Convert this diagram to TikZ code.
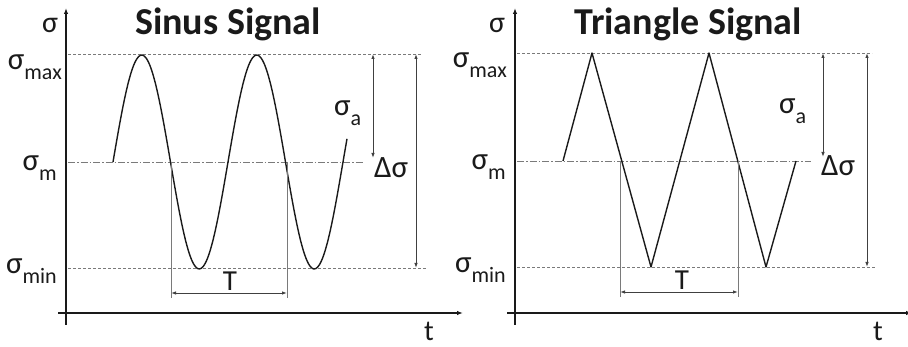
\documentclass[tikz,border=0pt]{standalone}
\usepackage{fontspec}
\setmainfont{Carlito}
\usetikzlibrary{arrows.meta}
\definecolor{ink}{HTML}{1A1A1A}
\definecolor{guide}{HTML}{7A7A7A}
\definecolor{dimgray}{HTML}{404040}
\newcommand{\lo}[1]{\raisebox{-0.3em}{\fontsize{22}{22}\selectfont #1}}
\tikzset{
  every node/.style={text=ink,inner sep=0pt},
  lbl/.style={font=\fontsize{29}{31}\selectfont},
  sublbl/.style={font=\fontsize{31}{33}\selectfont},
  axlbl/.style={font=\fontsize{30}{32}\selectfont},
  ttl/.style={font=\fontsize{38}{40}\selectfont\bfseries},
  axis/.style={-{Latex[length=6pt,width=4.5pt]},line width=1.2pt,draw=ink},
  levelline/.style={dash pattern=on 3pt off 2pt,line width=0.8pt,draw=guide},
  midline/.style={dash pattern=on 7pt off 2pt on 1.5pt off 2pt,line width=0.8pt,draw=guide},
  signal/.style={line width=1.4pt,draw=ink,line join=round},
  extline/.style={line width=0.8pt,draw=guide},
  dimarr/.style={{Latex[length=5pt,width=3.5pt]}-{Latex[length=5pt,width=3.5pt]},line width=0.9pt,draw=dimgray}
}
\begin{document}
\begin{tikzpicture}[x=1pt,y=-1pt]
  \useasboundingbox (0,0) rectangle (908,347);

  % sinus panel
  \begin{scope}
    \coordinate (sin-y0) at (66,325); \coordinate (sin-y1) at (66,8);
    \coordinate (sin-x0) at (58,313); \coordinate (sin-x1) at (463,313);
    \coordinate (sin-maxl) at (68,54);  \coordinate (sin-maxr) at (422,54);
    \coordinate (sin-midl) at (68,162); \coordinate (sin-midr) at (363,162);
    \coordinate (sin-minl) at (68,268); \coordinate (sin-minr) at (427,268);
    \coordinate (sin-t0) at (171,162); \coordinate (sin-t0b) at (171,298);
    \coordinate (sin-t1) at (287,162); \coordinate (sin-t1b) at (287,298);
    \coordinate (sin-ta) at (171,293); \coordinate (sin-tb) at (287,293);
    \coordinate (sin-aa) at (373,54); \coordinate (sin-ab) at (373,158);
    \coordinate (sin-da) at (416,54); \coordinate (sin-db) at (416,268);

    \draw[axis] (sin-y0)--(sin-y1); \draw[axis] (sin-x0)--(sin-x1);
    \draw[levelline] (sin-maxl)--(sin-maxr); \draw[midline] (sin-midl)--(sin-midr); \draw[levelline] (sin-minl)--(sin-minr);
    \draw[signal] plot[domain=113:347,samples=120,smooth] (\x,{162-107*sin((\x-113)/115*360)});
    \draw[extline] (sin-t0)--(sin-t0b); \draw[extline] (sin-t1)--(sin-t1b);
    \draw[dimarr] (sin-ta)--(sin-tb); \draw[dimarr] (sin-aa)--(sin-ab); \draw[dimarr] (sin-da)--(sin-db);

    \node[ttl,anchor=base] (sin-title) at (228,35) {Sinus Signal};
    \node[axlbl,anchor=base] (sin-ylab) at (50,33) {σ};
    \node[lbl,anchor=base] (sin-xlab) at (429,341) {t};
    \node[sublbl,anchor=base east] (sin-max) at (62,70) {σ\lo{max}};
    \node[sublbl,anchor=base east] (sin-mid) at (57,171) {σ\lo{m}};
    \node[sublbl,anchor=base east] (sin-min) at (57,274) {σ\lo{min}};
    \node[sublbl,anchor=base west] (sin-amp) at (334,116) {σ\lo{a}};
    \node[sublbl,anchor=base west] (sin-range) at (374,178) {Δσ};
    \node[lbl,anchor=base] (sin-per) at (230,291) {T};
  \end{scope}

  % triangle panel
  \begin{scope}[shift={(449,0)}]
    \coordinate (tri-y0) at (66,325); \coordinate (tri-y1) at (66,8);
    \coordinate (tri-x0) at (58,313); \coordinate (tri-x1) at (463,313);
    \coordinate (tri-maxl) at (68,53);  \coordinate (tri-maxr) at (423,53);
    \coordinate (tri-midl) at (68,161); \coordinate (tri-midr) at (362,161);
    \coordinate (tri-minl) at (68,267); \coordinate (tri-minr) at (427,267);
    \coordinate (tri-t0) at (171,161); \coordinate (tri-t0b) at (171,297);
    \coordinate (tri-t1) at (289,161); \coordinate (tri-t1b) at (289,297);
    \coordinate (tri-ta) at (171,292); \coordinate (tri-tb) at (289,292);
    \coordinate (tri-aa) at (374,53); \coordinate (tri-ab) at (374,157);
    \coordinate (tri-da) at (418,53); \coordinate (tri-db) at (418,267);
    \coordinate (tri-s) at (114,161); \coordinate (tri-p1) at (143,53); \coordinate (tri-v1) at (202,267);
    \coordinate (tri-p2) at (260,53); \coordinate (tri-v2) at (317,267); \coordinate (tri-e) at (347,161);

    \draw[axis] (tri-y0)--(tri-y1); \draw[axis] (tri-x0)--(tri-x1);
    \draw[levelline] (tri-maxl)--(tri-maxr); \draw[midline] (tri-midl)--(tri-midr); \draw[levelline] (tri-minl)--(tri-minr);
    \draw[signal] (tri-s)--(tri-p1)--(tri-v1)--(tri-p2)--(tri-v2)--(tri-e);
    \draw[extline] (tri-t0)--(tri-t0b); \draw[extline] (tri-t1)--(tri-t1b);
    \draw[dimarr] (tri-ta)--(tri-tb); \draw[dimarr] (tri-aa)--(tri-ab); \draw[dimarr] (tri-da)--(tri-db);

    \node[ttl,anchor=base] (tri-title) at (239,35) {Triangle Signal};
    \node[axlbl,anchor=base] (tri-ylab) at (48,33) {σ};
    \node[lbl,anchor=base] (tri-xlab) at (429,341) {t};
    \node[sublbl,anchor=base east] (tri-max) at (58,68) {σ\lo{max}};
    \node[sublbl,anchor=base east] (tri-mid) at (57,170) {σ\lo{m}};
    \node[sublbl,anchor=base east] (tri-min) at (57,273) {σ\lo{min}};
    \node[sublbl,anchor=base west] (tri-amp) at (330,114) {σ\lo{a}};
    \node[sublbl,anchor=base west] (tri-range) at (372,176) {Δσ};
    \node[lbl,anchor=base] (tri-per) at (233,290) {T};
  \end{scope}
\end{tikzpicture}
\end{document}
